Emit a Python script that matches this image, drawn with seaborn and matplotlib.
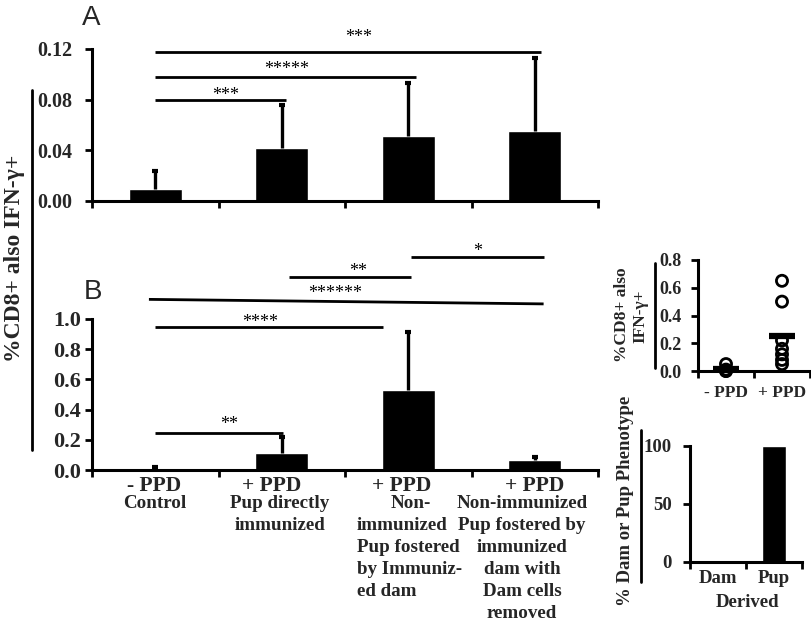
import numpy as np
import pandas as pd
import matplotlib
matplotlib.use("Agg")
import matplotlib.pyplot as plt
from matplotlib.lines import Line2D
from matplotlib.transforms import offset_copy
import seaborn as sns

# ---------------- data ----------------
groups = ["- PPD", "+ PPD a", "+ PPD b", "+ PPD c"]

# panel A
a_mean = [0.0095, 0.042, 0.0516, 0.055]
a_top = [0.0237, 0.0758, 0.093, 0.113]
a_sig_x0 = [0.0, 0.0, 0.0]
a_sig_x1 = [3.05, 2.06, 1.03]
a_sig_y = [0.118, 0.098, 0.0797]
a_stars = ["***", "*****", "***"]
a_star_x = [1.61, 1.04, 0.56]
a_star_y = [0.1326, 0.107, 0.0868]

# panel B
b_mean = [0.005, 0.11, 0.53, 0.066]
b_top = [0.018, 0.22, 0.916, 0.088]
b_sig_x0 = [0.0, 0.0, -0.05, 1.06, 2.02]
b_sig_x1 = [1.01, 1.80, 3.07, 2.02, 3.07]
b_sig_y0 = [0.247, 0.947, 1.13, 1.276, 1.41]
b_sig_y1 = [0.247, 0.947, 1.10, 1.276, 1.41]
b_stars = ["**", "****", "******", "**", "*"]
b_star_x = [0.586, 0.83, 1.42, 1.60, 2.55]
b_star_y = [0.331, 1.007, 1.199, 1.346, 1.477]

# x labels of panel B
b_head = ["- PPD", "+ PPD", "+ PPD", "+ PPD"]
b_sub = [["Control"],
         ["Pup directly", "immunized"],
         ["Non-", "immunized", "Pup fostered", "by Immuniz-", "ed dam"],
         ["Non-immunized", "Pup fostered by", "immunized", "dam with",
          "Dam cells", "removed"]]

# inset: individual animals
s_groups = ["- PPD", "+ PPD"]
s_neg = [0.05, 0.01, 0.0, 0.0]
s_pos = [0.65, 0.50, 0.22, 0.16, 0.12, 0.08, 0.05]

# inset: phenotype origin
d_groups = ["Dam", "Pup"]
d_vals = [0, 100]

# ---------------- figure ----------------
sns.set_theme(style="white")
plt.rcParams["font.family"] = ["Liberation Serif", "DejaVu Serif"]
plt.rcParams["font.weight"] = "bold"

W, H = 811, 624
fig = plt.figure(figsize=(W / 100, H / 100), dpi=100)


def rect(x0, x1, y0, y1):
    # pixel box -> figure fraction [left, bottom, width, height]
    return [x0 / W, 1 - y0 / H, (x1 - x0) / W, (y0 - y1) / H]


def ftext(x, y, s, **kw):
    fig.text(x / W, 1 - y / H, s, **kw)


def vline(x, y0, y1):
    fig.add_artist(Line2D([x / W, x / W], [1 - y0 / H, 1 - y1 / H],
                          transform=fig.transFigure, color="black", lw=2))


def style_axis(ax, nx, pad_y, fs):
    sns.despine(ax=ax)
    for s in ["left", "bottom"]:
        ax.spines[s].set_linewidth(2.2)
        ax.spines[s].set_color("black")
    ax.set_xlim(-0.5, nx - 0.5)
    ax.set_xticks(np.arange(nx + 1) - 0.5)
    ax.set_xticklabels([])
    ax.tick_params(axis="x", which="major", direction="out", length=5,
                   width=2, color="black", bottom=True)
    ax.tick_params(axis="y", direction="out", length=5, width=2,
                   color="black", left=True, pad=pad_y, labelsize=fs)
    ax.set_xlabel("")
    ax.set_ylabel("")
    for t in ax.get_yticklabels():
        t.set_fontweight("bold")


def bars(ax, mean, top):
    df = pd.DataFrame({"group": groups, "value": mean})
    sns.barplot(data=df, x="group", y="value", color="black", width=0.42,
                errorbar=None, saturation=1, ax=ax)
    mean = np.array(mean)
    err = np.array(top) - mean
    eb = ax.errorbar(np.arange(len(mean)), mean,
                     yerr=[np.zeros_like(err), err], fmt="none",
                     ecolor="black", elinewidth=2.4, capsize=2.2,
                     capthick=3, clip_on=False)
    # only the upper cap is drawn in the original
    eb[1][0].set_visible(False)


star_kw = dict(ha="center", va="baseline", fontsize=13, fontweight="normal",
               color="black")

# ---- panel A ----
axA = fig.add_axes(rect(92, 598, 201, 49))
bars(axA, a_mean, a_top)
axA.set_ylim(0, 0.12)
axA.set_yticks([0, 0.04, 0.08, 0.12])
axA.set_yticklabels([f"{v:.2f}" for v in [0, 0.04, 0.08, 0.12]])
style_axis(axA, 4, 9, 14.5)
trA = offset_copy(axA.transData, fig=fig, y=-6.5, units="points")
for x0, x1, y, st, sx, sy in zip(a_sig_x0, a_sig_x1, a_sig_y, a_stars,
                                 a_star_x, a_star_y):
    axA.plot([x0, x1], [y, y], color="black", lw=2, clip_on=False,
             solid_capstyle="butt")
    axA.text(sx, sy, st, transform=trA, **star_kw)

# ---- panel B ----
axB = fig.add_axes(rect(92, 598, 470, 319))
bars(axB, b_mean, b_top)
axB.set_ylim(0, 1.0)
axB.set_yticks(np.arange(0, 1.01, 0.2))
axB.set_yticklabels([f"{v:.1f}" for v in np.arange(0, 1.01, 0.2)])
style_axis(axB, 4, 3, 16)
trB = offset_copy(axB.transData, fig=fig, y=-6.5, units="points")
for x0, x1, y0, y1, st, sx, sy in zip(b_sig_x0, b_sig_x1, b_sig_y0, b_sig_y1,
                                      b_stars, b_star_x, b_star_y):
    axB.plot([x0, x1], [y0, y1], color="black", lw=2, clip_on=False,
             solid_capstyle="butt")
    axB.text(sx, sy, st, transform=trB, **star_kw)

# x labels under B
head_x = [154, 272, 402, 535]
sub_x = [155, 280, 357, 522]
sub_base = [508, 530, 552, 574, 596, 618]
for i, (h, sub) in enumerate(zip(b_head, b_sub)):
    ftext(head_x[i], 491, h, ha="center", va="baseline", fontsize=15.5,
          fontweight="bold")
    for j, line in enumerate(sub):
        if i == 2 and j == 0:
            ftext(411, sub_base[j], line, ha="center", va="baseline",
                  fontsize=13.7, fontweight="bold")
        elif i == 2:
            ftext(sub_x[i], sub_base[j], line, ha="left", va="baseline",
                  fontsize=13.7, fontweight="bold")
        else:
            ftext(sub_x[i], sub_base[j], line, ha="center", va="baseline",
                  fontsize=13.7, fontweight="bold")

# panel letters and shared y label
ftext(82, 25, "A", ha="left", va="baseline", fontsize=20,
      family=["Liberation Sans", "DejaVu Sans"], fontweight="normal")
ftext(84, 299, "B", ha="left", va="baseline", fontsize=20,
      family=["Liberation Sans", "DejaVu Sans"], fontweight="normal")
ftext(15, 258, "%CD8+ also IFN-γ+", rotation=90, ha="center", va="center",
      fontsize=17, fontweight="bold")
vline(32, 90, 450)

# ---- inset: scatter ----
axS = fig.add_axes(rect(698, 810, 371, 260))
df_s = pd.DataFrame({"group": [s_groups[0]] * len(s_neg) + [s_groups[1]] * len(s_pos),
                     "value": s_neg + s_pos})
sns.stripplot(data=df_s, x="group", y="value", order=s_groups, jitter=False,
              color="black", size=8, linewidth=2, edgecolor="black", ax=axS)
for c in axS.collections:
    c.set_facecolor("none")
    c.set_clip_on(False)
means = [np.mean(s_neg), np.mean(s_pos)]
axS.hlines(means, np.arange(2) - 0.24, np.arange(2) + 0.24, color="black",
           lw=4.5, zorder=4, clip_on=False)
axS.set_ylim(0, 0.8)
axS.set_yticks(np.arange(0, 0.81, 0.2))
axS.set_yticklabels([f"{v:.1f}" for v in np.arange(0, 0.81, 0.2)])
style_axis(axS, 2, 7, 13)
axS.set_xticks([0, 1], minor=True)
axS.set_xticklabels(s_groups, minor=True, fontsize=12.5, fontweight="bold")
axS.tick_params(axis="x", which="minor", length=0, pad=10)
ftext(622, 315, "%CD8+ also", rotation=90, ha="center", va="center",
      fontsize=12.5, fontweight="bold")
ftext(640, 316, "IFN-γ+", rotation=90, ha="center", va="center",
      fontsize=12.5, fontweight="bold")
vline(655, 263, 368)

# ---- inset: dam / pup phenotype ----
axD = fig.add_axes(rect(690, 802, 562, 446))
df_d = pd.DataFrame({"group": d_groups, "value": d_vals})
sns.barplot(data=df_d, x="group", y="value", color="black", width=0.43,
            errorbar=None, saturation=1, ax=axD)
axD.set_ylim(0, 100)
axD.set_yticks([0, 50, 100])
axD.set_yticklabels(["0", "50", "100"])
style_axis(axD, 2, 8, 13.5)
axD.set_xticks([0, 1], minor=True)
axD.set_xticklabels(d_groups, minor=True, fontsize=13.5, fontweight="bold")
axD.tick_params(axis="x", which="minor", length=0, pad=6)
ftext(748, 607, "Derived", ha="center", va="baseline", fontsize=13.5,
      fontweight="bold")
ftext(625, 501, "% Dam or Pup Phenotype", rotation=90, ha="center",
      va="center", fontsize=13.5, fontweight="bold")
vline(641, 430, 582)

fig.savefig("out.png", dpi=100)
